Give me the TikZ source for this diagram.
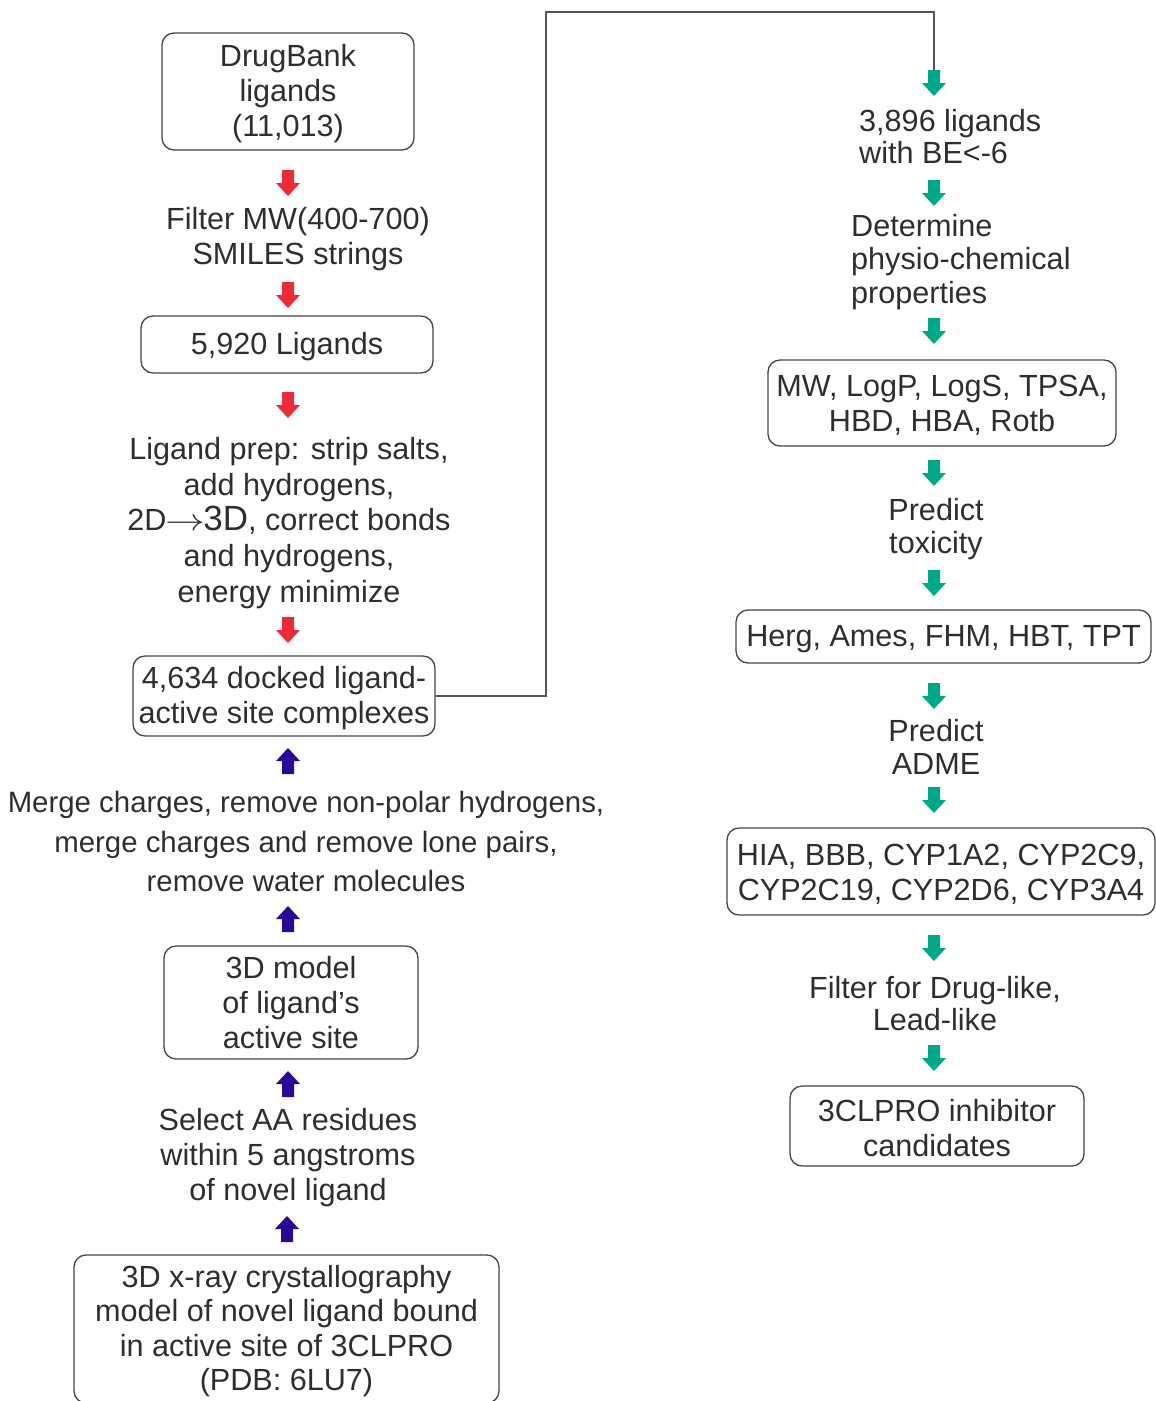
\documentclass[tikz,border=0pt]{standalone}
\usepackage{fontspec}
\setmainfont{Liberation Sans}
\definecolor{txt}{HTML}{2E2E2E}
\definecolor{boxline}{HTML}{444444}
\definecolor{redarr}{HTML}{EC2A38}
\definecolor{purarr}{HTML}{2A0898}
\definecolor{grnarr}{HTML}{00A986}
\definecolor{conn}{HTML}{555555}
\begin{document}
\begin{tikzpicture}[x=1pt,y=-1pt,
  every node/.style={text=txt, font=\fontsize{30.6}{35}\selectfont},
  box/.style={draw=boxline, line width=1.3pt, rounded corners=12pt, inner sep=0pt},
  lbl/.style={align=center, inner sep=0pt},
  intext/.style={lbl, yshift=-2pt},
  downarrow/.pic={\fill[pic actions] (-6,0)--(6,0)--(6,13)--(12,13)--(0,26)--(-12,13)--(-6,13)--cycle;},
  uparrow/.pic={\fill[pic actions] (-6,26)--(6,26)--(6,13)--(12,13)--(0,0)--(-12,13)--(-6,13)--cycle;}
]
\useasboundingbox (0,0) rectangle (1156,1401);

% ---------- left column ----------
\node[box, minimum width=252pt, minimum height=117pt,
  label={[intext]center:{DrugBank\\ligands\\(11,013)}}] (drugbank) at (288,91.5) {};
\node[lbl] (filter) at (298,239) {Filter MW(400-700)\\SMILES strings};
\node[box, minimum width=292pt, minimum height=57pt,
  label={[intext]center:{5,920 Ligands}}] (l5920) at (287,344.5) {};
\node[lbl, font=\fontsize{30.6}{35.6}\selectfont] (prep) at (289,523) {Ligand prep: strip salts,\\add hydrogens,\\2D\kern-1.5pt\scalebox{1.6}[1.25]{$\rightarrow$}\kern-1.5pt{\fontsize{35}{35.6}\selectfont 3D}, correct bonds\\and hydrogens,\\energy minimize};
\node[box, minimum width=302pt, minimum height=80pt,
  label={[intext]center:{4,634 docked ligand-\\active site complexes}}] (dock) at (284,696) {};
\node[lbl, font=\fontsize{29.4}{39.5}\selectfont] (merge) at (306,841.5) {Merge charges, remove non-polar hydrogens,\\merge charges and remove lone pairs,\\remove water molecules};
\node[box, minimum width=254pt, minimum height=113pt,
  label={[intext, yshift=2pt]center:{3D model\\of ligand's\\active site}}] (model) at (291,1002.5) {};
\node[lbl] (select) at (288,1158) {Select AA residues\\within 5 angstroms\\of novel ligand};
\node[box, minimum width=425pt, minimum height=148pt,
  label={[intext, font=\fontsize{30.6}{34.3}\selectfont]center:{3D x-ray crystallography\\model of novel ligand bound\\in active site of 3CLPRO\\(PDB: 6LU7)}}] (xray) at (286.5,1329) {};

% arrows left
\pic[fill=redarr] at (288,170) {downarrow};
\pic[fill=redarr] at (288,282) {downarrow};
\pic[fill=redarr] at (288,392) {downarrow};
\pic[fill=redarr] at (288,617) {downarrow};
\pic[fill=purarr] at (288,748) {uparrow};
\pic[fill=purarr] at (288,906) {uparrow};
\pic[fill=purarr] at (288,1071) {uparrow};
\pic[fill=purarr] at (287,1216) {uparrow};

% ---------- right column ----------
\node[lbl, align=left, anchor=west, font=\fontsize{30.6}{32}\selectfont] (be6) at (859,137) {3,896 ligands\\with BE<-6};
\node[lbl, align=left, anchor=west, font=\fontsize{30.6}{33.5}\selectfont] (determine) at (851,262) {Determine\\physio-chemical\\properties};
\node[box, minimum width=348pt, minimum height=86pt,
  label={[intext]center:{MW, LogP, LogS, TPSA,\\HBD, HBA, Rotb}}] (props) at (942,403) {};
\node[lbl, font=\fontsize{30.6}{33}\selectfont] (tox) at (936,529.5) {Predict\\toxicity};
\node[box, minimum width=415pt, minimum height=53pt,
  label={[intext, yshift=-1pt]center:{Herg, Ames, FHM, HBT, TPT}}] (herg) at (943.5,636.5) {};
\node[lbl, font=\fontsize{30.6}{33}\selectfont] (adme) at (936,747) {Predict\\ADME};
\node[box, minimum width=428pt, minimum height=87pt,
  label={[intext, yshift=-1pt]center:{HIA, BBB, CYP1A2, CYP2C9,\\CYP2C19, CYP2D6, CYP3A4}}] (hia) at (941,871.5) {};
\node[lbl, font=\fontsize{30.6}{32}\selectfont] (druglike) at (935,1003.5) {Filter for Drug-like,\\Lead-like};
\node[box, minimum width=294pt, minimum height=80pt,
  label={[intext]center:{3CLPRO inhibitor\\candidates}}] (cand) at (937,1126) {};

% arrows right
\foreach \yy in {70,180,318,460,570,683,787,935,1045}
  \pic[fill=grnarr] at (934,\yy) {downarrow};

% connector
\coordinate (c1) at (546,12);
\coordinate (c2) at (934,12);
\coordinate (garr) at (934,70);
\draw[conn, line width=1.5pt] (dock.east) -| (c1) -- (c2) -- (garr);
\end{tikzpicture}
\end{document}
